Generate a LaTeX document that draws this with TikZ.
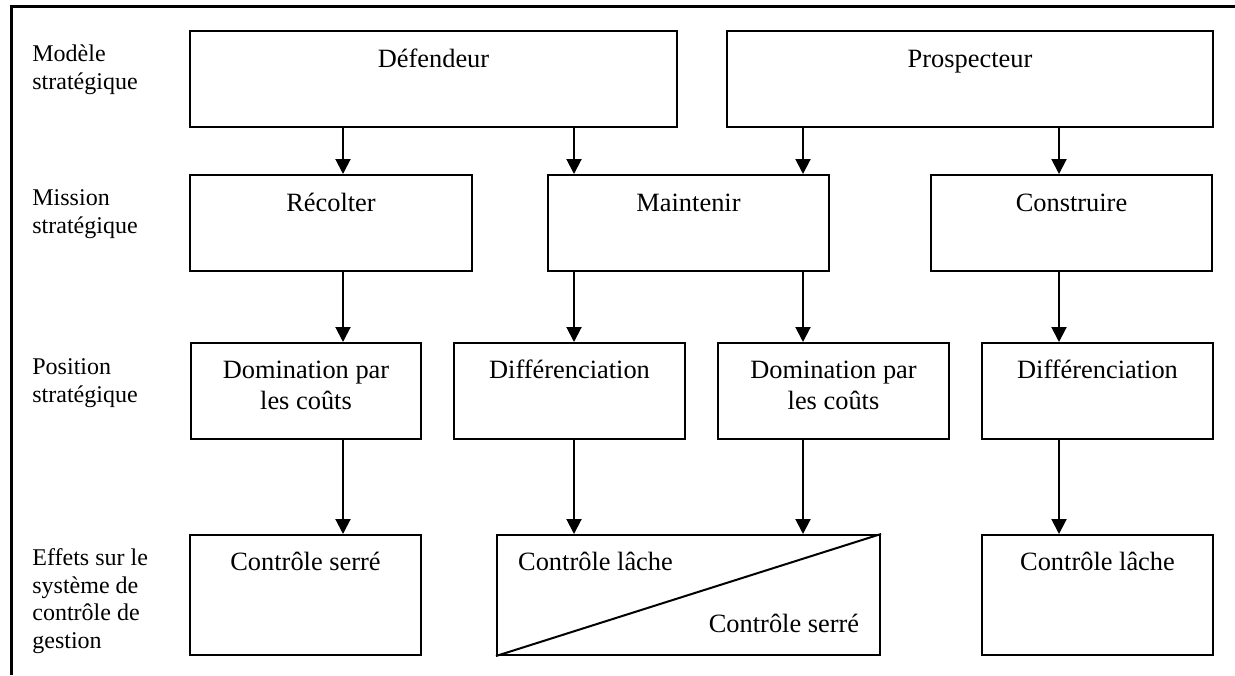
\documentclass[tikz,border=0pt]{standalone}
\usepackage{fontspec}
\setmainfont{Liberation Serif}
\usetikzlibrary{fit,arrows.meta}
\begin{document}
\begin{tikzpicture}[x=0.5pt,y=-0.5pt,
  box/.style={draw,line width=1pt,inner sep=0pt},
  txt/.style={anchor=base,inner sep=0pt,align=center,font=\fontsize{13.2}{15.5}\selectfont},
  lbl/.style={anchor=base west,inner sep=0pt,align=left,font=\fontsize{12}{13.7}\selectfont},
  arr/.style={line width=1pt,-{Triangle[length=7.5pt,width=7.5pt]}},
  frame/.style={line width=1.5pt}]
\useasboundingbox (0,0) rectangle (1235,675);
\draw[frame] (1235,6) -- (11,6) -- (11,675);

% left labels (anchor = baseline of last line)
\node[lbl] (l1) at (32,89) {Modèle\\stratégique};
\node[lbl] (l2) at (32,233) {Mission\\stratégique};
\node[lbl] (l3) at (32,402) {Position\\stratégique};
\node[lbl] (l4) at (32,648) {Effets sur le\\système de\\contrôle de\\gestion};

% boxes
\node[box,fit={(190,31) (677,127)}] (def) {};
\node[box,fit={(727,31) (1213,127)}] (pro) {};
\node[box,fit={(190,175) (472,271)}] (rec) {};
\node[box,fit={(548,175) (829,271)}] (mai) {};
\node[box,fit={(931,175) (1212,271)}] (con) {};
\node[box,fit={(191,343) (421,439)}] (dom1) {};
\node[box,fit={(454,343) (685,439)}] (dif1) {};
\node[box,fit={(718,343) (949,439)}] (dom2) {};
\node[box,fit={(982,343) (1213,439)}] (dif2) {};
\node[box,fit={(190,535) (421,655)}] (cs) {};
\node[box,fit={(497,535) (880,655)}] (mix) {};
\node[box,fit={(982,535) (1213,655)}] (cl) {};
\draw[line width=1pt] (mix.south west) -- (mix.north east);

% texts
\node[txt] (tdef) at (433.5,67) {Défendeur};
\node[txt] (tpro) at (970,67) {Prospecteur};
\node[txt] (trec) at (331,211) {Récolter};
\node[txt] (tmai) at (688.5,211) {Maintenir};
\node[txt] (tcon) at (1071.5,211) {Construire};
\node[txt] (tdom1) at (306,409) {Domination par\\les coûts};
\node[txt] (tdif1) at (569.5,378) {Différenciation};
\node[txt] (tdom2) at (833.5,409) {Domination par\\les coûts};
\node[txt] (tdif2) at (1097.5,378) {Différenciation};
\node[txt] (tcs) at (305.5,570) {Contrôle serré};
\node[txt] (tmix1) at (595.5,570) {Contrôle lâche};
\node[txt] (tmix2) at (784,632) {Contrôle serré};
\node[txt] (tcl) at (1097.5,570) {Contrôle lâche};

% arrow columns
\coordinate (c1) at (343,0);
\coordinate (c2) at (574,0);
\coordinate (c3) at (803,0);
\coordinate (c4) at (1059,0);

\draw[arr] (c1 |- def.south) -- (c1 |- rec.north);
\draw[arr] (c2 |- def.south) -- (c2 |- mai.north);
\draw[arr] (c3 |- pro.south) -- (c3 |- mai.north);
\draw[arr] (c4 |- pro.south) -- (c4 |- con.north);

\draw[arr] (c1 |- rec.south) -- (c1 |- dom1.north);
\draw[arr] (c2 |- mai.south) -- (c2 |- dif1.north);
\draw[arr] (c3 |- mai.south) -- (c3 |- dom2.north);
\draw[arr] (c4 |- con.south) -- (c4 |- dif2.north);

\draw[arr] (c1 |- dom1.south) -- (c1 |- cs.north);
\draw[arr] (c2 |- dif1.south) -- (c2 |- mix.north);
\draw[arr] (c3 |- dom2.south) -- (c3 |- mix.north);
\draw[arr] (c4 |- dif2.south) -- (c4 |- cl.north);
\end{tikzpicture}
\end{document}
